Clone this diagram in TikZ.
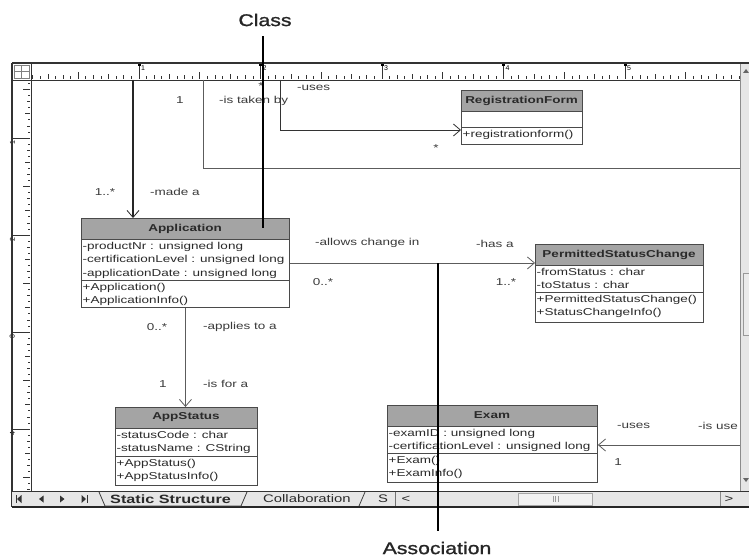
\documentclass[tikz,border=0pt]{standalone}
\usepackage{fontspec}
\setmainfont{Liberation Sans}
\newfontfamily\umlfont[FakeStretch=1.35]{Liberation Sans}
\newfontfamily\callfont[FakeStretch=1.25,FakeBold=1.2]{Liberation Sans}
\usetikzlibrary{arrows.meta,calc}
\definecolor{hdr}{HTML}{A4A4A4}
\definecolor{bord}{HTML}{4A4A4A}
\definecolor{conn}{HTML}{5C5C5C}
\definecolor{barbg}{HTML}{E6E6E6}
\definecolor{uitxt}{HTML}{2A2A2A}
\definecolor{lbltxt}{HTML}{3A3A3A}
\tikzset{
  umltext/.style={font=\umlfont\fontsize{10}{13.5}\selectfont, text=uitxt, inner sep=0pt},
  umltitle/.style={font=\umlfont\bfseries\fontsize{10}{12}\selectfont, text=uitxt, inner sep=0pt},
  lbl/.style={font=\umlfont\fontsize{10}{12}\selectfont, text=lbltxt, inner sep=0pt, anchor=west},
  mult/.style={font=\umlfont\fontsize{10}{12}\selectfont, text=lbltxt, inner sep=0pt},
  assoc/.style={draw=conn, line width=0.9pt},
  arrowed/.style={assoc, -{Straight Barb[length=7pt,width=12pt,line width=0.8pt]}},
  callout/.style={draw=black, line width=1.6pt},
  calltext/.style={font=\callfont\fontsize{17}{20}\selectfont, text=black!85, inner sep=0pt},
  classbox/.style={draw=bord, line width=0.9pt, fill=white, anchor=north west, inner sep=0pt},
  rulerline/.style={draw=black!80, line width=0.7pt},
  tabtext/.style={font=\umlfont\fontsize{11}{12}\selectfont, text=uitxt, inner sep=0pt},
}
% name, x, y, width, attr height, method height, title, attributes, methods
\newcommand{\umlclass}[9]{%
  \node[classbox, minimum width=#4pt, minimum height={21pt+#5pt+#6pt}] (#1) at (#2,#3) {};
  \fill[hdr] (#2,#3) rectangle ({#2+#4},{#3+21});
  \draw[bord, line width=0.9pt] (#1.north west) rectangle (#1.south east);
  \draw[bord, line width=0.8pt] (#2,{#3+21}) -- ({#2+#4},{#3+21});
  \draw[bord, line width=0.8pt] (#2,{#3+21+#5}) -- ({#2+#4},{#3+21+#5});
  \node[umltitle] (#1-title) at ({#2+#4/2},{#3+10.5}) {#7};
  \node[umltext, anchor=north west, align=left] (#1-attr) at ({#2+1.5},{#3+24}) {#8};
  \node[umltext, anchor=north west, align=left] (#1-meth) at ({#2+1.5},{#3+24+#5}) {#9};
}
\begin{document}
\begin{tikzpicture}[x=1pt,y=-1pt]
\useasboundingbox (0,0) rectangle (749,559);
\fill[white] (0,0) rectangle (749,559);

% ---------- rulers ----------
\fill[white] (12,63) rectangle (740,80);
\foreach \i in {-14,...,79}{
  \pgfmathsetmacro\xx{139+\i*7.59375}
  \pgfmathsetmacro\hh{ifthenelse(mod(\i,16)==0,17,ifthenelse(mod(\i,8)==0,7,ifthenelse(mod(\i,4)==0,5,ifthenelse(mod(\i,2)==0,3.5,2.5))))}
  \draw[rulerline] (\xx,79) -- (\xx,{79-\hh});
}
\foreach \k/\n in {0/1,1/2,2/3,3/4,4/5}{
  \pgfmathsetmacro\xx{139+\k*121.5}
  \node[font=\fontsize{7}{7}\selectfont, inner sep=0pt, anchor=north west] (rt\n) at (\xx+2,65) {\n};
  \fill[black] (\xx-1.5,63) rectangle (\xx+1.5,66.5);
}
\foreach \i in {-9,...,58}{
  \pgfmathsetmacro\yy{138+\i*6.0625}
  \pgfmathsetmacro\hh{ifthenelse(mod(\i,16)==0,18,ifthenelse(mod(\i,8)==0,7,ifthenelse(mod(\i,4)==0,5,ifthenelse(mod(\i,2)==0,3.5,2.5))))}
  \draw[rulerline] (30,\yy) -- ({30-\hh},\yy);
}
\foreach \k/\n in {0/1,1/2,2/3,3/4}{
  \pgfmathsetmacro\yy{138+\k*97}
  \node[font=\fontsize{7}{7}\selectfont, inner sep=0pt, rotate=90, anchor=south east] (lt\n) at (15,\yy+2) {\n};
}
\draw[black!80, line width=1.2pt] (12,63) -- (749,63);
\draw[black!80, line width=0.9pt] (12,80) -- (740,80);
\draw[black!80, line width=0.9pt] (31,63) -- (31,491);
\draw[black!80, line width=1.2pt] (12,63) -- (12,507);
\draw[black!50, line width=0.5pt] (14,65) rectangle (29,78);
\draw[black!50, line width=0.5pt] (21.5,65) -- (21.5,78) (14,71.5) -- (29,71.5);

% ---------- right scrollbar ----------
\fill[barbg] (740,63.6) rectangle (749,491);
\draw[black!45, line width=0.8pt] (740,63.6) -- (740,491);
\fill[black!60] (743,73) -- (749,73) -- (746,69) -- cycle;
\draw[black!40, line width=0.7pt, fill=black!8] (743,273) rectangle (749.5,335);
\fill[black!60] (743,478) -- (749,478) -- (746,482) -- cycle;

% ---------- classes ----------
\umlclass{reg}{461}{90}{121}{16}{17}{RegistrationForm}{}{+registrationform()}
\umlclass{app}{81}{218}{208}{41}{27}{Application}{-productNr : unsigned long\\-certificationLevel : unsigned long\\-applicationDate : unsigned long}{+Application()\\+ApplicationInfo()}
\umlclass{psc}{535}{244}{168}{27}{30}{PermittedStatusChange}{-fromStatus : char\\-toStatus : char}{+PermittedStatusChange()\\+StatusChangeInfo()}
\umlclass{appst}{115}{407}{142}{28}{29}{AppStatus}{-statusCode : char\\-statusName : CString}{+AppStatus()\\+AppStatusInfo()}
\umlclass{exam}{387}{405}{210}{27}{29}{Exam}{-examID : unsigned long\\-certificationLevel : unsigned long}{+Exam()\\+ExamInfo()}

% ---------- connectors ----------
\coordinate (c1top) at (133,80);
\draw[arrowed, draw=black!85, line width=1.3pt] (c1top) -- (c1top |- app.north);
\coordinate (c2top) at (203,80);
\coordinate (c2end) at (740,168);
\draw[assoc] (c2top) |- (c2end);
\coordinate (c3top) at (280,80);
\coordinate (c3turn) at (280,130);
\draw[arrowed, draw=black!80] (c3top) -- (c3turn) -- (c3turn -| reg.west);
\draw[arrowed] (app.east) -- (app.east -| psc.west);
\draw[arrowed] (app.south) -- (app.south |- appst.north);
\coordinate (c6) at (740,445);
\draw[arrowed] (c6) -- (c6 -| exam.east);

% ---------- labels ----------
\node[mult] (l1) at (180,100) {1};
\node[lbl] (l2) at (219,101) {-is taken by};
\node[lbl] (l3) at (297,88) {-uses};
\node[mult] (l4) at (261,86) {*};
\node[mult] (l5) at (436,148) {*};
\node[mult] (l6) at (105,192) {1..*};
\node[lbl] (l7) at (150,192) {-made a};
\node[lbl] (l8) at (315,243) {-allows change in};
\node[mult] (l9) at (323,282) {0..*};
\node[lbl] (l10) at (476,244) {-has a};
\node[mult] (l11) at (506,282) {1..*};
\node[mult] (l12) at (157,327) {0..*};
\node[lbl] (l13) at (203,327) {-applies to a};
\node[mult] (l14) at (163,384) {1};
\node[lbl] (l15) at (203,384) {-is for a};
\node[lbl] (l16) at (617,426) {-uses};
\node[lbl] (l17) at (698,426) {-is use};
\node[mult] (l18) at (618,462) {1};

% ---------- bottom bar ----------
\fill[barbg] (12,491) rectangle (749,507);
\draw[black!80, line width=1pt] (12,491) -- (749,491);
\draw[black!85, line width=1.4pt] (12,507) -- (749,507);
% navigation buttons
\draw[black!80, line width=1pt] (16,495) -- (16,503);
\fill[black!80] (17,499) -- (21.5,495) -- (21.5,503) -- cycle;
\fill[black!80] (39,499) -- (43.5,495.5) -- (43.5,502.5) -- cycle;
\fill[black!80] (64.5,499) -- (60,495.5) -- (60,502.5) -- cycle;
\fill[black!80] (86,499) -- (81.5,495) -- (81.5,503) -- cycle;
\draw[black!80, line width=1pt] (87,495) -- (87,503);
% tabs
\draw[black!75, line width=0.8pt] (99,492) -- (105,506) -- (241,506) -- (247,492);
\draw[black!75, line width=0.8pt] (359,506) -- (365,492);
\node[tabtext, font=\umlfont\bfseries\fontsize{12}{12}\selectfont, anchor=west] (tab1) at (110,499) {Static Structure};
\node[tabtext, anchor=west] (tab2) at (263,499) {Collaboration};
\node[tabtext, anchor=west] (tab3) at (378,499) {S};
% horizontal scrollbar
\draw[black!55, line width=0.8pt] (395,492) -- (395,506);
\node[tabtext, anchor=center] (sbl) at (406,499) {<};
\draw[black!35, line width=0.6pt, fill=black!5] (518,493) rectangle (592,505);
\draw[black!40, line width=0.5pt] (553,496) -- (553,502) (555.5,496) -- (555.5,502) (558,496) -- (558,502);
\draw[black!45, line width=0.6pt] (720,492) -- (720,506);
\node[tabtext, anchor=center] (sbr) at (729,499) {>};

% ---------- callouts ----------
\node[calltext] (classlbl) at (265,20) {Class};
\coordinate (classtip) at (263,228);
\draw[callout] ([yshift=-10pt]classlbl.south -| classtip) -- (classtip);
\node[calltext] (assoclbl) at (437,548) {Association};
\coordinate (assoctip) at (438,263);
\draw[callout] (assoctip) -- ([yshift=11pt]assoclbl.north -| assoctip);
\end{tikzpicture}
\end{document}
